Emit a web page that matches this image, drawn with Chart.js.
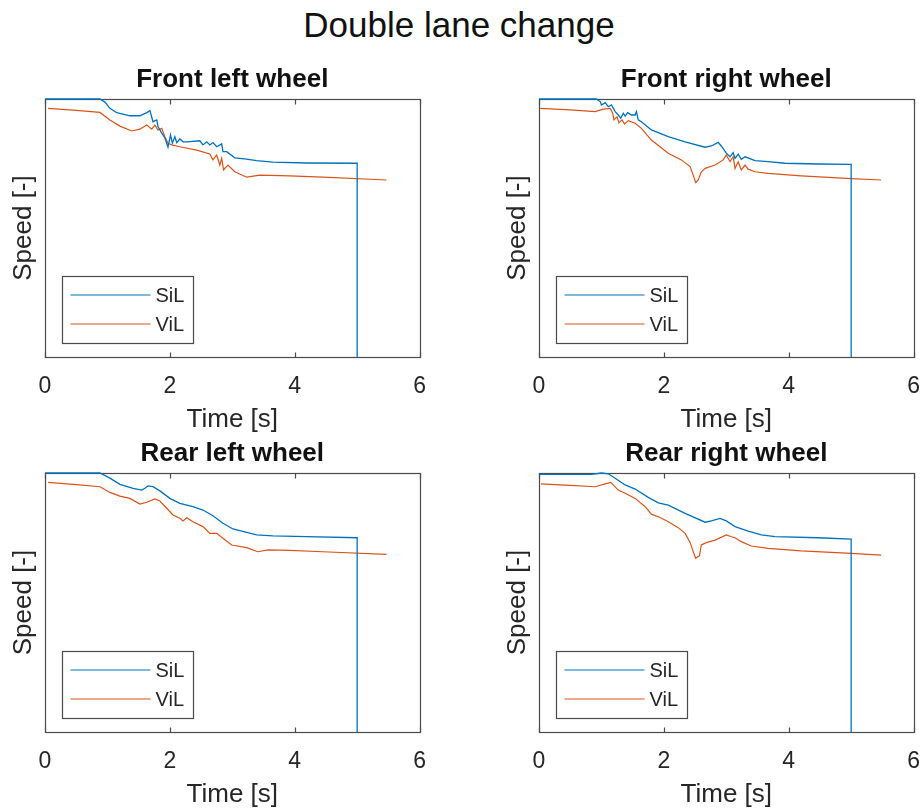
<!DOCTYPE html>
<html>
<head>
<meta charset="utf-8">
<script src="https://cdn.jsdelivr.net/npm/chart.js@4/dist/chart.umd.min.js"></script>
<style>
  html, body { margin: 0; padding: 0; background: #fff; width: 922px; height: 810px; overflow: hidden; position: relative; }
  #suptitle { position: absolute; left: 0; width: 918px; top: 8px; text-align: center;
    font-family: "Liberation Sans", Arial, sans-serif; font-size: 35px; line-height: 34px; color: #111; }
  canvas { position: absolute; }
</style>
</head>
<body>
<div id="suptitle">Double lane change</div>
<canvas id="c0" width="442" height="385" style="left:0px;top:50px"></canvas>
<canvas id="c1" width="442" height="385" style="left:494px;top:50px"></canvas>
<canvas id="c2" width="442" height="386" style="left:0px;top:424px"></canvas>
<canvas id="c3" width="442" height="386" style="left:494px;top:424px"></canvas>
<script>
// ---- Data (time in s, speed in arbitrary normalised units) ----
const seriesNames = ["SiL", "ViL"];
const plotTitles = ["Front left wheel", "Front right wheel", "Rear left wheel", "Rear right wheel"];
const xTicks = [0, 2, 4, 6];

// Front left
const tFL_SiL = [0, 0.88, 0.96, 1.04, 1.15, 1.36, 1.52, 1.63, 1.68, 1.73, 1.79, 1.81, 1.87, 1.92, 1.97, 2.01, 2.04, 2.08, 2.11, 2.16, 2.21, 2.27, 2.48, 2.53, 2.59, 2.64, 2.69, 2.75, 2.83, 2.85, 2.91, 3.04, 3.23, 3.39, 3.65, 4.19, 5.0, 5.0];
const vFL_SiL = [100, 100, 98.8, 96.4, 94.7, 93.5, 93.5, 94.7, 95.5, 91.2, 91.9, 89.3, 86.8, 84.9, 81.4, 86.0, 82.9, 85.4, 83.1, 84.5, 83.4, 83.4, 83.8, 82.2, 83.4, 82.2, 83.1, 81.5, 82.6, 79.6, 79.6, 77.2, 76.7, 76.1, 75.5, 75.2, 75.1, 0];
const tFL_ViL = [0.05, 0.5, 0.88, 1.04, 1.2, 1.39, 1.52, 1.63, 1.71, 1.76, 1.81, 1.87, 1.92, 1.97, 2.03, 2.16, 2.43, 2.64, 2.69, 2.75, 2.8, 2.83, 2.86, 2.93, 3.04, 3.23, 3.44, 3.92, 4.45, 5.47];
const vFL_ViL = [96.4, 95.6, 94.8, 91.9, 89.5, 87.6, 88.3, 89.9, 88.3, 89.9, 88.0, 88.6, 85.4, 82.8, 82.2, 81.5, 80.2, 78.7, 76.4, 78.3, 74.4, 77.0, 72.5, 74.4, 71.8, 69.7, 70.5, 70.2, 69.7, 68.6];

// Front right
const tFR_SiL = [0, 0.92, 0.98, 1.0, 1.06, 1.11, 1.16, 1.22, 1.27, 1.31, 1.35, 1.38, 1.42, 1.48, 1.54, 1.56, 1.59, 1.64, 1.8, 2.07, 2.34, 2.66, 2.76, 2.87, 2.92, 3.0, 3.06, 3.11, 3.14, 3.19, 3.24, 3.3, 3.46, 3.67, 3.94, 4.47, 5.0, 5.0];
const vFR_SiL = [100, 100, 99, 97.7, 98.6, 97, 97.7, 95.1, 93.8, 92.5, 94.5, 93.4, 94.7, 93.8, 93.8, 95.1, 91.9, 91.2, 88, 85.4, 83.4, 81.3, 81.8, 83.2, 81.8, 79, 77.6, 79.2, 77, 78.6, 76.6, 77.6, 76.1, 75.7, 75.1, 74.8, 74.7, 0];
const tFR_ViL = [0.02, 0.5, 0.9, 1.03, 1.14, 1.18, 1.2, 1.25, 1.28, 1.33, 1.37, 1.43, 1.54, 1.64, 1.8, 2.07, 2.28, 2.42, 2.47, 2.51, 2.55, 2.6, 2.66, 2.82, 2.95, 3.0, 3.06, 3.11, 3.14, 3.19, 3.24, 3.3, 3.35, 3.46, 3.67, 4.2, 5.0, 5.48];
const vFR_ViL = [96.4, 95.8, 95.1, 96.1, 96.4, 94.5, 91.9, 93.1, 90.8, 91.9, 90.3, 91.6, 90.6, 88.6, 84.1, 79.0, 76.4, 73.8, 70.5, 67.6, 68.6, 71.8, 73.1, 74.4, 76.4, 78.3, 75.7, 77.6, 73.1, 75.7, 72.5, 74.4, 72.8, 71.8, 71.2, 70.2, 69.1, 68.6];

// Rear left
const tRL_SiL = [0, 0.88, 1.04, 1.2, 1.41, 1.55, 1.6, 1.65, 1.73, 1.84, 2.0, 2.16, 2.37, 2.53, 2.69, 2.85, 3.01, 3.23, 3.39, 3.65, 4.19, 5.0, 5.0];
const vRL_SiL = [100, 100, 98, 95.6, 94.1, 93.4, 94.1, 95, 94.7, 93.1, 90.2, 88.3, 87, 85.7, 83.5, 80.6, 78.4, 77.1, 76.1, 75.7, 75.4, 75, 0];
const tRL_ViL = [0.05, 0.5, 0.88, 1.04, 1.2, 1.36, 1.52, 1.63, 1.76, 1.84, 1.95, 2.05, 2.16, 2.21, 2.27, 2.37, 2.53, 2.64, 2.75, 2.85, 2.99, 3.23, 3.41, 3.57, 3.92, 4.45, 5.47];
const vRL_ViL = [96.4, 95.5, 94.7, 92.5, 91.1, 90.2, 88, 88.7, 90, 89.2, 86.4, 83.8, 82.5, 81.5, 82.7, 81.2, 79.3, 76.7, 76.7, 74.8, 72.2, 71.2, 69.6, 70.3, 70.1, 69.6, 68.6];

// Rear right
const tRR_SiL = [0, 0.84, 1.0, 1.11, 1.22, 1.38, 1.54, 1.75, 1.91, 2.07, 2.34, 2.66, 2.76, 2.9, 3.0, 3.14, 3.35, 3.56, 3.78, 4.47, 5.0, 5.0];
const vRR_SiL = [99.5, 99.5, 100, 99.7, 98, 95.4, 93.8, 90.6, 88.5, 87.6, 84.4, 81, 81.5, 82.5, 81.5, 79.3, 77.6, 76.1, 75.4, 75, 74.5, 0];
const tRR_ViL = [0.03, 0.5, 0.9, 1.06, 1.15, 1.2, 1.27, 1.38, 1.54, 1.7, 1.8, 1.94, 2.07, 2.23, 2.34, 2.42, 2.47, 2.51, 2.57, 2.6, 2.68, 2.82, 3.0, 3.07, 3.14, 3.24, 3.4, 3.67, 4.2, 5.0, 5.48];
const vRR_ViL = [95.8, 95.2, 94.7, 95.8, 96.4, 95.1, 93.4, 92.2, 90.2, 87, 84.1, 82.8, 81.2, 78.9, 76.7, 73.2, 69.6, 67.1, 68.1, 72.2, 73.1, 74.1, 76.1, 75.5, 75, 73.5, 71.8, 70.9, 69.9, 69, 68.3];

// ---- Chart construction ----
const FONT = '"Liberation Sans", Arial, Helvetica, sans-serif';
const TEXT = '#262626';
const BLUE = '#0072BD';
const ORANGE = '#D95319';

function zip(t, v) { return t.map((x, i) => ({ x: x, y: v[i] })); }

const frameTicks = {
  id: 'frameTicks',
  beforeDatasetsDraw(chart) {
    const { ctx, chartArea: a, scales } = chart;
    ctx.save();
    ctx.strokeStyle = '#4a4a4a';
    ctx.lineWidth = 1.2;
    const L = Math.round(a.left) + 0.5, R = Math.round(a.right) + 0.5;
    const T = Math.round(a.top) + 0.5, B = Math.round(a.bottom) + 0.5;
    ctx.strokeRect(L, T, R - L, B - T);
    ctx.beginPath();
    xTicks.forEach(v => {
      const px = Math.round(scales.x.getPixelForValue(v)) + 0.5;
      ctx.moveTo(px, B); ctx.lineTo(px, B - 5);
      ctx.moveTo(px, T); ctx.lineTo(px, T + 5);
    });
    ctx.stroke();
    ctx.restore();
  },
  afterDraw(chart) {
    const { ctx, chartArea: a } = chart;
    const ds = chart.data.datasets;
    ctx.save();
    ctx.strokeStyle = '#4a4a4a';
    ctx.lineWidth = 1.2;
    const bx = Math.round(a.left + 16.5) + 0.5, bw = 131;
    const bh = 67, by = Math.round(a.bottom - 14.5 - bh) + 0.5;
    ctx.fillStyle = '#fff';
    ctx.fillRect(bx, by, bw, bh);
    ctx.strokeRect(bx, by, bw, bh);
    ctx.font = '20px ' + FONT;
    ctx.textBaseline = 'middle';
    ctx.textAlign = 'left';
    ds.forEach((d, i) => {
      const ly = by + 18.5 + i * 29;
      ctx.beginPath();
      ctx.strokeStyle = d.borderColor;
      ctx.lineWidth = 1.2;
      ctx.moveTo(bx + 8, ly); ctx.lineTo(bx + 88, ly);
      ctx.stroke();
      ctx.fillStyle = TEXT;
      ctx.fillText(d.label, bx + 93, ly + 1);
    });
    ctx.restore();
  }
};

function makeChart(id, title, sil, vil) {
  return new Chart(document.getElementById(id), {
    type: 'line',
    data: {
      datasets: [
        { label: seriesNames[0], data: sil, borderColor: BLUE, backgroundColor: BLUE, borderWidth: 1.3, pointRadius: 0, tension: 0, clip: 2 },
        { label: seriesNames[1], data: vil, borderColor: ORANGE, backgroundColor: ORANGE, borderWidth: 1.2, pointRadius: 0, tension: 0, clip: 2 }
      ]
    },
    options: {
      responsive: false,
      animation: false,
      events: [],
      layout: { padding: { left: 0, top: 0, right: 0, bottom: 0 } },
      plugins: {
        legend: { display: false },
        tooltip: { enabled: false },
        title: {
          display: true, text: title, color: '#111', fullSize: false,
          font: { family: FONT, size: 26, weight: 'bold', lineHeight: '30px' },
          padding: { top: 15, bottom: 4 }
        }
      },
      scales: {
        x: {
          type: 'linear', min: 0, max: 6,
          afterBuildTicks: s => { s.ticks = xTicks.map(v => ({ value: v })); },
          afterFit: s => { s.height = 78; },
          grid: { display: false, drawTicks: false },
          border: { display: false },
          ticks: { color: TEXT, font: { family: FONT, size: 23 }, padding: 16, maxRotation: 0 },
          title: { display: true, text: 'Time [s]', color: TEXT, font: { family: FONT, size: 26, lineHeight: '30px' }, padding: { top: 0, bottom: 0 } }
        },
        y: {
          type: 'linear', min: 0, max: 100,
          afterFit: s => { s.width = 45; },
          grid: { display: false, drawTicks: false },
          border: { display: false },
          ticks: { display: false },
          title: { display: true, text: 'Speed [-]', color: TEXT, font: { family: FONT, size: 26, lineHeight: '30px' }, padding: { top: 9, bottom: 0 } }
        }
      }
    },
    plugins: [frameTicks]
  });
}

makeChart('c0', plotTitles[0], zip(tFL_SiL, vFL_SiL), zip(tFL_ViL, vFL_ViL));
makeChart('c1', plotTitles[1], zip(tFR_SiL, vFR_SiL), zip(tFR_ViL, vFR_ViL));
makeChart('c2', plotTitles[2], zip(tRL_SiL, vRL_SiL), zip(tRL_ViL, vRL_ViL));
makeChart('c3', plotTitles[3], zip(tRR_SiL, vRR_SiL), zip(tRR_ViL, vRR_ViL));
</script>
</body>
</html>
